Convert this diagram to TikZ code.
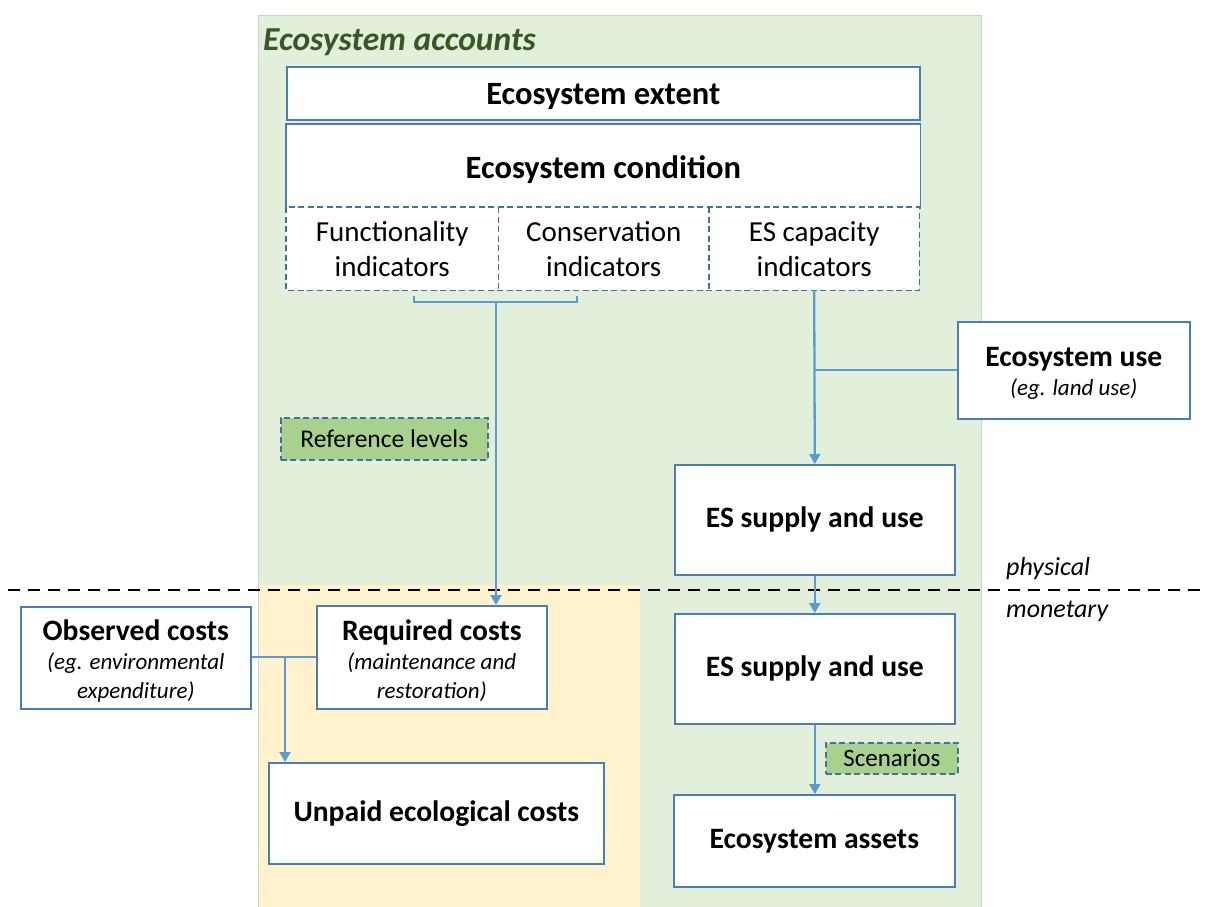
\documentclass[tikz,border=0pt]{standalone}
\usepackage{fontspec}
\setmainfont{Carlito}
\usetikzlibrary{arrows.meta,calc}
\definecolor{bggreen}{HTML}{E2EFDA}
\definecolor{bgyellow}{HTML}{FFF2CC}
\definecolor{boxblue}{HTML}{4A7EBB}
\definecolor{dashblue}{HTML}{41719C}
\definecolor{lineblue}{HTML}{5B9BD5}
\definecolor{labgreen}{HTML}{A9D18E}
\definecolor{titlegreen}{HTML}{385723}
\definecolor{edgegray}{HTML}{C9D6C0}
\tikzset{
  box/.style={draw=boxblue, line width=1.6pt, fill=white, inner sep=0pt, anchor=north west, align=center},
  cell/.style={fill=white, inner sep=0pt, anchor=north west, align=center, font=\fontsize{29}{35}\selectfont},
  dashb/.style={draw=dashblue, line width=1.7pt, dash pattern=on 6pt off 3.5pt},
  greenlab/.style={dashb, fill=labgreen, inner sep=0pt, anchor=north west, font=\fontsize{25.5}{28}\selectfont},
  conn/.style={draw=lineblue, line width=2.3pt},
  arr/.style={conn, -{Triangle[width=11pt,length=10pt]}},
  big/.style={inner sep=0pt, font=\fontsize{32.5}{36}\selectfont\bfseries},
  mid/.style={font=\fontsize{29.6}{32}\selectfont\bfseries},
  twoline/.style={inner sep=0pt, align=center, font=\fontsize{23}{29}\selectfont},
}
\newcommand{\hd}[1]{{\fontsize{29.6}{30}\selectfont\bfseries #1}}
\newcommand{\subt}[1]{{\itshape #1}}
\begin{document}
\begin{tikzpicture}[x=1pt,y=-1pt]
\useasboundingbox (0,0) rectangle (1208,907);
% backgrounds
\fill[bggreen] (258,15) rectangle (981,907);
\draw[edgegray, line width=0.8pt] (258,907) -- (258,15) -- (981,15) -- (981,907);
\fill[bgyellow] (258,585) rectangle (640,907);
\draw[edgegray, line width=0.8pt] (258,585) -- (258,907);
\node[anchor=base west, inner sep=0pt, text=titlegreen, font=\fontsize{33.5}{36}\selectfont\bfseries\itshape] (title) at (263,51) {Ecosystem accounts};
% divider
\draw[black, line width=2.3pt, dash pattern=on 12pt off 8pt] (8,590) -- (1200,590);
\node[anchor=base west, inner sep=0pt, font=\fontsize{26}{28}\selectfont\itshape] (phys) at (1006,575) {physical};
\node[anchor=base west, inner sep=0pt, font=\fontsize{26}{28}\selectfont\itshape] (mon) at (1006,617) {monetary};
% top boxes
\node[box, minimum width=633pt, minimum height=53pt] (extent) at (286,66) {};
\node[big] (extentt) at ($(extent.center)+(0,3)$) {Ecosystem extent};
\node[box, draw=none, minimum width=633pt, minimum height=83pt] (cond) at (286,124) {};
\node[big] (condt) at ($(cond.center)+(0,3.5)$) {Ecosystem condition};
\draw[boxblue, line width=1.6pt] (cond.south west) -- (cond.north west) -- (cond.north east) -- (cond.south east);
\node[cell, minimum width=212pt, minimum height=83pt] (func) at (286,207) {Functionality\\indicators};
\node[cell, minimum width=211pt, minimum height=83pt] (cons) at (498,207) {Conservation\\indicators};
\node[cell, minimum width=210pt, minimum height=83pt] (cap) at (709,207) {ES capacity\\indicators};
\draw[dashb] (func.north west) rectangle (cap.south east);
\draw[dashb] (func.north east) -- (func.south east);
\draw[dashb] (cap.north west) -- (cap.south west);
% bracket
\coordinate (bl) at (414,296);
\coordinate (br) at (577,296);
\coordinate (bc) at (496,302);
\draw[conn, line width=1.8pt] (bl) -- ++(0,6) -- ($(br)+(0,6)$) -- (br);
% ecosystem use
\node[box, minimum width=232pt, minimum height=97pt] (use) at (957,321) {};
\node[twoline] (uset) at ($(use.center)+(0,3.5)$) {\hd{Ecosystem use}\\\subt{(eg. land use)}};
\node[greenlab, minimum width=207pt, minimum height=42pt] (ref) at (280,417) {Reference levels};
% physical supply
\node[box, mid, minimum width=280pt, minimum height=110pt] (sup1) at (674,464) {ES supply and use};
\node[box, mid, minimum width=280pt, minimum height=110pt] (sup2) at (674,613) {ES supply and use};
\node[greenlab, minimum width=132pt, minimum height=31pt, font=\fontsize{25}{26}\selectfont] (scen) at (825,742) {Scenarios};
\node[box, mid, minimum width=281pt, minimum height=92pt] (assets) at (673,794) {Ecosystem assets};
% costs
\node[box, minimum width=230pt, minimum height=102pt] (obs) at (20,606) {};
\node[twoline] (obst) at ($(obs.center)+(0,3)$) {\hd{Observed costs}\\\subt{(eg. environmental}\\\subt{expenditure)}};
\node[box, minimum width=230pt, minimum height=103pt] (req) at (316,605) {};
\node[twoline] (reqt) at ($(req.center)+(0,3)$) {\hd{Required costs}\\\subt{(maintenance and}\\\subt{restoration)}};
\node[box, mid, minimum width=335pt, minimum height=101pt] (unpaid) at (268,762) {Unpaid ecological costs};
% connectors
\coordinate (usej) at (cap.south |- use.west);
\draw[conn] (use.west) -- (usej);
\draw[arr] (cap.south) -- (sup1.north);
\draw[arr] (bc) -- (bc |- req.north);
\draw[arr] (sup1.south) -- (sup2.north);
\draw[arr] (sup2.south) -- (sup2.south |- assets.north);
\coordinate (costj) at (285,657);
\draw[conn] (obs.east |- costj) -- (req.west |- costj);
\draw[arr] (costj) -- (costj |- unpaid.north);
\end{tikzpicture}
\end{document}
